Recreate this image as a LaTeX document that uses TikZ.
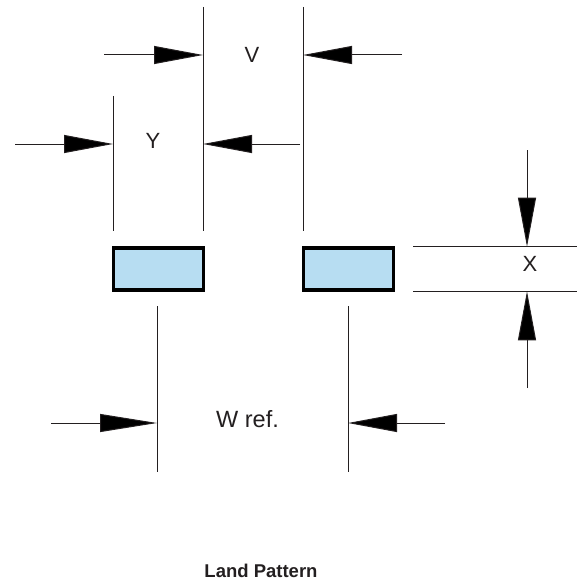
\documentclass[tikz,border=0pt]{standalone}
\usepackage{fontspec}
\setmainfont{Liberation Sans}
\usetikzlibrary{arrows.meta}
\definecolor{padblue}{HTML}{B7DDF2}
\definecolor{inkline}{HTML}{231F20}
\tikzset{
  extline/.style={draw=inkline,line width=1pt},
  dimarrow/.style={draw=inkline,line width=1pt,-{Triangle[length=49pt,width=18pt,fill=black]},shorten >=0pt},
  dimarrowlong/.style={draw=inkline,line width=1pt,-{Triangle[length=57pt,width=18pt,fill=black]},shorten >=0pt},
  pad/.style={draw=black,line width=3.6pt,fill=padblue,minimum width=90pt,minimum height=42.5pt,inner sep=0pt,outer sep=0pt},
  dimlabel/.style={font=\fontsize{22}{22}\selectfont,text=inkline,inner sep=0pt},
  wlabel/.style={font=\fontsize{23.5}{23.5}\selectfont,text=inkline,inner sep=0pt},
  titlelabel/.style={font=\bfseries\fontsize{18.5}{18.5}\selectfont,text=inkline,inner sep=0pt}
}
\begin{document}
\begin{tikzpicture}[x=1pt,y=-1pt]
\useasboundingbox (0,0) rectangle (579,583);
% pads
\node[pad] (padL) at (158.5,269) {};
\node[pad] (padR) at (348.3,269) {};
% extension lines
\coordinate (yT) at (113,96);   \coordinate (yB) at (113,231);
\coordinate (vLT) at (203,7);   \coordinate (vLB) at (203,231);
\coordinate (vRT) at (303,7);   \coordinate (vRB) at (303,231);
\coordinate (xTL) at (413,246.7); \coordinate (xTR) at (577,246.7);
\coordinate (xBL) at (413,291.3); \coordinate (xBR) at (577,291.3);
\coordinate (wLT) at (157,306); \coordinate (wLB) at (157,472);
\coordinate (wRT) at (348,306); \coordinate (wRB) at (348,472);
\draw[extline] (yT) -- (yB);
\draw[extline] (vLT) -- (vLB);
\draw[extline] (vRT) -- (vRB);
\draw[extline] (xTL) -- (xTR);
\draw[extline] (xBL) -- (xBR);
\draw[extline] (wLT) -- (wLB);
\draw[extline] (wRT) -- (wRB);
% arrow tails
\coordinate (a1) at (104,55);
\coordinate (a2) at (402,55);
\coordinate (a3) at (15,144);
\coordinate (a4) at (300,144);
\coordinate (a5) at (527,150);
\coordinate (a6) at (527,388);
\coordinate (a7) at (51,423);
\coordinate (a8) at (445,423);
\draw[dimarrow] (a1) -- (a1 -| vLT);
\draw[dimarrow] (a2) -- (a2 -| vRT);
\draw[dimarrow] (a3) -- (a3 -| yT);
\draw[dimarrow] (a4) -- (a4 -| vLT);
\draw[dimarrow] (a5) -- (a5 |- xTL);
\draw[dimarrow] (a6) -- (a6 |- xBL);
\draw[dimarrowlong] (a7) -- (a7 -| wLT);
\draw[dimarrow] (a8) -- (a8 -| wRT);
% labels
\node[dimlabel] (lblV) at (252,55) {V};
\node[dimlabel] (lblY) at (153,141) {Y};
\node[dimlabel] (lblX) at (530,264) {X};
\node[wlabel] (lblW) at (247.5,419) {W ref.};
\node[titlelabel] (title) at (261,571) {Land Pattern};
\end{tikzpicture}
\end{document}
